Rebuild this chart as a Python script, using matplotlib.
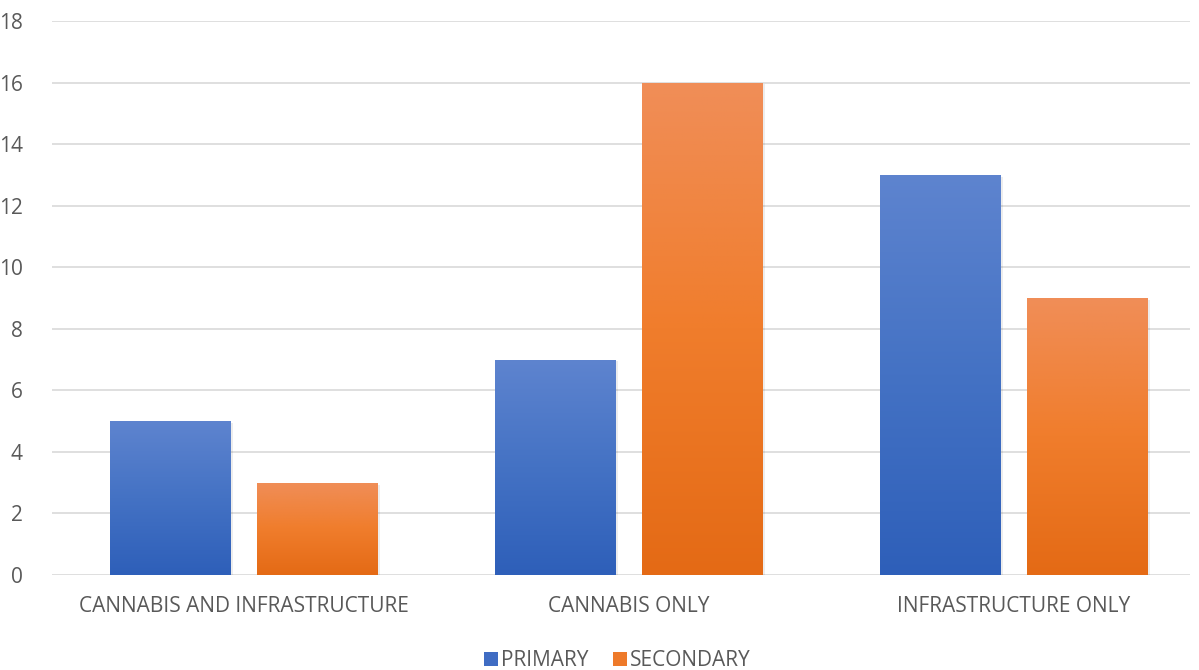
import numpy as np
import matplotlib.pyplot as plt
from matplotlib.colors import LinearSegmentedColormap
from matplotlib.patches import Patch

categories = ['CANNABIS AND INFRASTRUCTURE', 'CANNABIS ONLY', 'INFRASTRUCTURE ONLY']
primary = [5, 7, 13]
secondary = [3, 16, 9]
series_names = ['PRIMARY', 'SECONDARY']

plt.rcParams['font.family'] = ['Open Sans', 'DejaVu Sans']

fig = plt.figure(figsize=(11.99, 6.70), dpi=100)
ax = fig.add_axes([0.0434, 0.1418, 0.9491, 0.8269])

x = np.arange(len(categories))
w = 0.314
off = 0.191

blue_cmap = LinearSegmentedColormap.from_list('b', ['#2E5FB9', '#4472C4', '#5E84CF'])
orange_cmap = LinearSegmentedColormap.from_list('o', ['#E46A15', '#F07D2C', '#F08E58'])
grad = np.linspace(0, 1, 256).reshape(-1, 1)

def grad_bars(bars, cmap):
    for b in bars:
        bx, by = b.get_x(), b.get_y()
        bw, bh = b.get_width(), b.get_height()
        # soft shadow
        ax.bar(bx + bw / 2 + 0.003, bh, bw + 0.006, bottom=-0.06, color='#000000',
               alpha=0.07, zorder=2, linewidth=0)
        im = ax.imshow(grad, extent=[bx, bx + bw, by, by + bh], origin='lower',
                       cmap=cmap, aspect='auto', zorder=3)
        im.set_clip_path(b)
        b.set_facecolor('none')

b1 = ax.bar(x - off, primary, w, color='#4472C4', linewidth=0, zorder=3)
b2 = ax.bar(x + off, secondary, w, color='#ED7D31', linewidth=0, zorder=3)
grad_bars(b1, blue_cmap)
grad_bars(b2, orange_cmap)

ax.set_xlim(-0.499, 2.457)
ax.set_ylim(0, 18)
ax.set_yticks(range(0, 19, 2))
ax.set_xticks(x)
ax.set_xticklabels(categories)
ax.grid(axis='y', color='#D9D9D9', linewidth=1.2, zorder=0)
ax.set_axisbelow(True)
for s in ax.spines.values():
    s.set_visible(False)
ax.tick_params(axis='both', length=0, labelsize=15, colors='#595959')
ax.tick_params(axis='x', pad=15)
ax.tick_params(axis='y', pad=21)

handles = [Patch(facecolor='#3F6CC3'), Patch(facecolor='#EE7A2A')]
fig.legend(handles, series_names, loc='lower center', bbox_to_anchor=(0.515, -0.03),
           ncol=2, frameon=False, fontsize=15, labelcolor='#595959',
           handlelength=0.65, handleheight=0.65, handletextpad=0.15, columnspacing=1.2)

fig.savefig('out.png', dpi=100)
